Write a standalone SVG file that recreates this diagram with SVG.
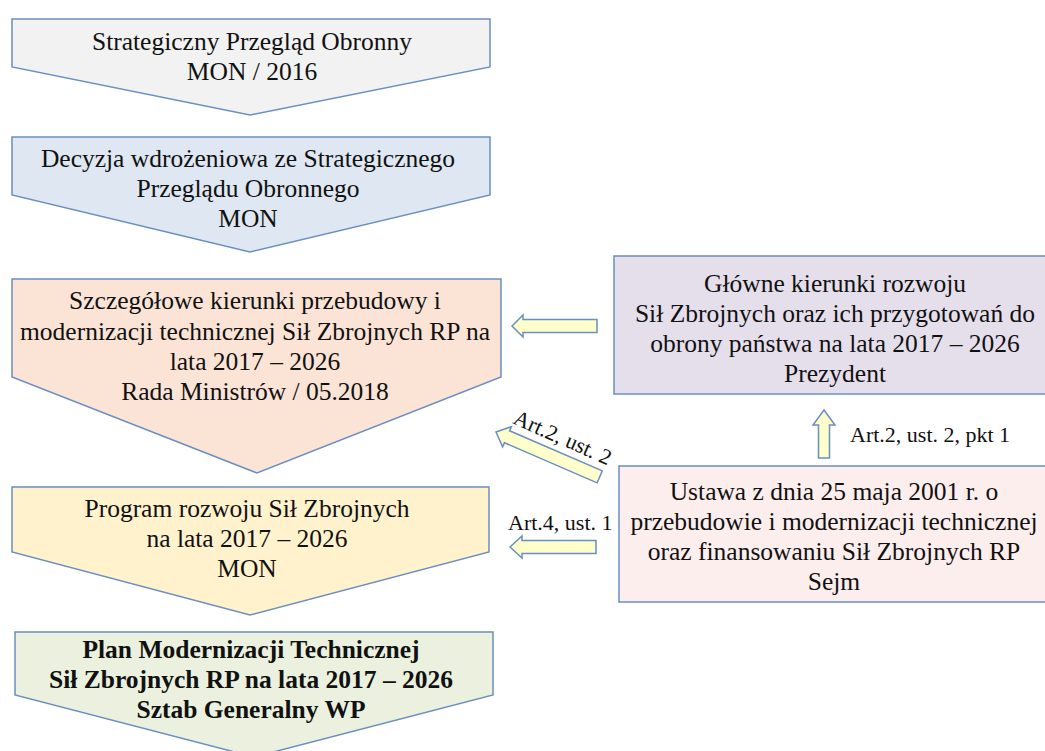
<svg xmlns="http://www.w3.org/2000/svg" width="1045" height="751" viewBox="0 0 1045 751">
<style>
.n{stroke:#6a8fc0;stroke-width:1.5}
.t{font-family:"Liberation Serif","Times New Roman",serif;font-size:25.5px;fill:#111;text-anchor:middle}
.b{font-weight:bold}
.l{font-family:"Liberation Serif","Times New Roman",serif;font-size:22px;fill:#111}
.a{fill:#ffffcc;stroke:#6a8fc0;stroke-width:1.5}
</style>
<rect width="1045" height="751" fill="#ffffff"/>
<g id="node-spo">
<polygon class="n" fill="#f2f2f2" points="12,19 490,19 490,67 250,115 12,67"/>
<text class="t" x="252" y="50">Strategiczny Przegląd Obronny</text>
<text class="t" x="252" y="80">MON / 2016</text>
</g>
<g id="node-decyzja">
<polygon class="n" fill="#dee7f2" points="12,137 490,137 490,195 250,252 12,195"/>
<text class="t" x="248" y="167">Decyzja wdrożeniowa ze Strategicznego</text>
<text class="t" x="248" y="197">Przeglądu Obronnego</text>
<text class="t" x="248" y="227">MON</text>
</g>
<g id="node-szczegolowe">
<polygon class="n" fill="#fbe4d6" points="12,279 501,279 501,377 257,473 12,377"/>
<text class="t" x="255" y="309">Szczegółowe kierunki przebudowy i</text>
<text class="t" x="255" y="340">modernizacji technicznej Sił Zbrojnych RP na</text>
<text class="t" x="255" y="370">lata 2017 – 2026</text>
<text class="t" x="255" y="400">Rada Ministrów / 05.2018</text>
</g>
<g id="node-program">
<polygon class="n" fill="#fff2cc" points="12,487 489,487 489,552 250,615 12,552"/>
<text class="t" x="247" y="517">Program rozwoju Sił Zbrojnych</text>
<text class="t" x="247" y="547">na lata 2017 – 2026</text>
<text class="t" x="247" y="577">MON</text>
</g>
<g id="node-plan">
<polygon class="n" fill="#ebf1de" points="15,632 493,632 493,695 254,757 15,695"/>
<text class="t b" x="251" y="658">Plan Modernizacji Technicznej</text>
<text class="t b" x="251" y="688">Sił Zbrojnych RP na lata 2017 – 2026</text>
<text class="t b" x="251" y="718">Sztab Generalny WP</text>
</g>
<g id="node-glowne">
<rect class="n" fill="#e5dfec" x="614" y="256" width="440" height="138"/>
<text class="t" x="835" y="292">Główne kierunki rozwoju</text>
<text class="t" x="835" y="322">Sił Zbrojnych oraz ich przygotowań do</text>
<text class="t" x="835" y="352">obrony państwa na lata 2017 – 2026</text>
<text class="t" x="835" y="382">Prezydent</text>
</g>
<g id="node-ustawa">
<rect class="n" fill="#fdeeee" x="619" y="466" width="440" height="136"/>
<text class="t" x="834" y="500">Ustawa z dnia 25 maja 2001 r. o</text>
<text class="t" x="834" y="530">przebudowie i modernizacji technicznej</text>
<text class="t" x="834" y="560">oraz finansowaniu Sił Zbrojnych RP</text>
<text class="t" x="834" y="590">Sejm</text>
</g>
<g id="connectors">
<polygon class="a" points="512,326 523,315 523,319.5 597,319.5 597,332.5 523,332.5 523,337"/>
<polygon class="a" transform="translate(496,432) rotate(23.4)" points="0,0 12,-11 12,-6.5 113,-6.5 113,6.5 12,6.5 12,11"/>
<polygon class="a" points="510,547 522,536 522,540.5 596,540.5 596,553.5 522,553.5 522,558"/>
<polygon class="a" points="824,410 835,425 829.5,425 829.5,458 818.5,458 818.5,425 813,425"/>
<text class="l" x="850" y="442">Art.2, ust. 2, pkt 1</text>
<text class="l" x="508" y="530">Art.4, ust. 1</text>
<text class="l" transform="translate(512,423) rotate(24)">Art.2, ust. 2</text>
</g>
</svg>
